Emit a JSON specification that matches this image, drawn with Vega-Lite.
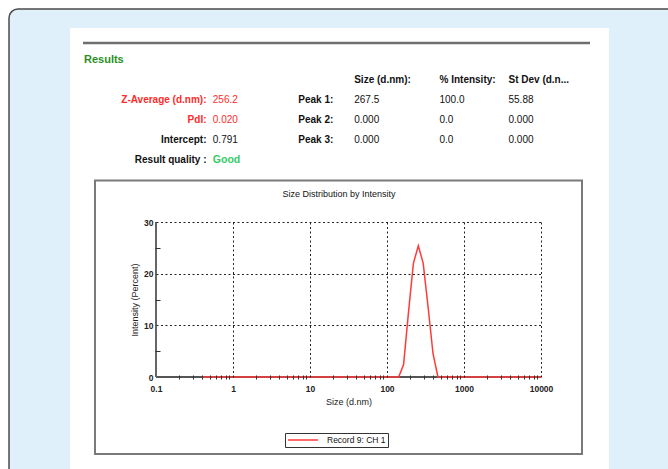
{
  "$schema": "https://vega.github.io/schema/vega-lite/v6.json",
  "width": 385,
  "height": 155,
  "autosize": {"type": "none"},
  "padding": {"left": 156, "top": 222, "right": 127, "bottom": 92},
  "background": "#ffffff",
  "config": {
    "view": {"stroke": null},
    "font": "Liberation Sans",
    "axis": {"zindex": 1, "labelFont": "Liberation Sans", "titleFont": "Liberation Sans"},
    "text": {"font": "Liberation Sans"}
  },
  "datasets": {
    "dist": [
      {"size": 0.4, "intensity": 0}, {"size": 0.4632, "intensity": 0}, {"size": 0.5365, "intensity": 0}, {"size": 0.6213, "intensity": 0},
      {"size": 0.7195, "intensity": 0}, {"size": 0.8332, "intensity": 0}, {"size": 0.9649, "intensity": 0}, {"size": 1.117, "intensity": 0},
      {"size": 1.294, "intensity": 0}, {"size": 1.499, "intensity": 0}, {"size": 1.736, "intensity": 0}, {"size": 2.01, "intensity": 0},
      {"size": 2.328, "intensity": 0}, {"size": 2.696, "intensity": 0}, {"size": 3.122, "intensity": 0}, {"size": 3.615, "intensity": 0},
      {"size": 4.187, "intensity": 0}, {"size": 4.849, "intensity": 0}, {"size": 5.615, "intensity": 0}, {"size": 6.503, "intensity": 0},
      {"size": 7.531, "intensity": 0}, {"size": 8.721, "intensity": 0}, {"size": 10.1, "intensity": 0}, {"size": 11.7, "intensity": 0},
      {"size": 13.54, "intensity": 0}, {"size": 15.69, "intensity": 0}, {"size": 18.17, "intensity": 0}, {"size": 21.04, "intensity": 0},
      {"size": 24.36, "intensity": 0}, {"size": 28.21, "intensity": 0}, {"size": 32.67, "intensity": 0}, {"size": 37.84, "intensity": 0},
      {"size": 43.82, "intensity": 0}, {"size": 50.75, "intensity": 0}, {"size": 58.77, "intensity": 0}, {"size": 68.06, "intensity": 0},
      {"size": 78.82, "intensity": 0}, {"size": 91.28, "intensity": 0}, {"size": 105.7, "intensity": 0}, {"size": 122.4, "intensity": 0},
      {"size": 141.8, "intensity": 0}, {"size": 164.2, "intensity": 2.4}, {"size": 190.1, "intensity": 12.5}, {"size": 220.2, "intensity": 22.0},
      {"size": 255.0, "intensity": 25.4}, {"size": 295.3, "intensity": 22.0}, {"size": 342.0, "intensity": 13.5}, {"size": 396.1, "intensity": 4.5},
      {"size": 458.7, "intensity": 0}, {"size": 531.2, "intensity": 0}, {"size": 615.1, "intensity": 0}, {"size": 712.4, "intensity": 0},
      {"size": 825.0, "intensity": 0}, {"size": 955.4, "intensity": 0}, {"size": 1106, "intensity": 0}, {"size": 1281, "intensity": 0},
      {"size": 1484, "intensity": 0}, {"size": 1718, "intensity": 0}, {"size": 1990, "intensity": 0}, {"size": 2305, "intensity": 0},
      {"size": 2669, "intensity": 0}, {"size": 3091, "intensity": 0}, {"size": 3580, "intensity": 0}, {"size": 4145, "intensity": 0},
      {"size": 4801, "intensity": 0}, {"size": 5560, "intensity": 0}, {"size": 6439, "intensity": 0}, {"size": 7456, "intensity": 0},
      {"size": 8635, "intensity": 0}, {"size": 10000, "intensity": 0}
    ],
    "cells": [
      {"row": -1, "col": 0, "text": "Results"},
      {"row": 0, "col": 4, "text": "Size (d.nm):"},
      {"row": 0, "col": 5, "text": "% Intensity:"},
      {"row": 0, "col": 6, "text": "St Dev (d.n..."},
      {"row": 1, "col": 1, "text": "Z-Average (d.nm):"},
      {"row": 1, "col": 2, "text": "256.2"},
      {"row": 1, "col": 3, "text": "Peak 1:"},
      {"row": 1, "col": 4, "text": "267.5"},
      {"row": 1, "col": 5, "text": "100.0"},
      {"row": 1, "col": 6, "text": "55.88"},
      {"row": 2, "col": 1, "text": "PdI:"},
      {"row": 2, "col": 2, "text": "0.020"},
      {"row": 2, "col": 3, "text": "Peak 2:"},
      {"row": 2, "col": 4, "text": "0.000"},
      {"row": 2, "col": 5, "text": "0.0"},
      {"row": 2, "col": 6, "text": "0.000"},
      {"row": 3, "col": 1, "text": "Intercept:"},
      {"row": 3, "col": 2, "text": "0.791"},
      {"row": 3, "col": 3, "text": "Peak 3:"},
      {"row": 3, "col": 4, "text": "0.000"},
      {"row": 3, "col": 5, "text": "0.0"},
      {"row": 3, "col": 6, "text": "0.000"},
      {"row": 4, "col": 1, "text": "Result quality :"},
      {"row": 4, "col": 2, "text": "Good"}
    ]
  },
  "layer": [
    {
      "data": {"values": [{}]},
      "layer": [
        {
          "mark": {"type": "rect", "fill": "#dff0fa", "stroke": "#4a4a4a", "strokeWidth": 1.5, "cornerRadius": 9},
          "encoding": {
            "x": {"datum": 0.001233, "type": "quantitative", "scale": {"type": "log", "domain": [0.1, 10000], "nice": false}, "axis": null},
            "x2": {"datum": 1160000},
            "y": {"datum": 71.23, "type": "quantitative", "scale": {"domain": [0, 30], "nice": false, "zero": false}, "axis": null},
            "y2": {"datum": -23.81}
          }
        },
        {
          "mark": {"type": "rect", "fill": "#ffffff"},
          "encoding": {
            "x": {"datum": 0.00764, "type": "quantitative", "axis": null},
            "x2": {"datum": 76390},
            "y": {"datum": 67.55, "type": "quantitative", "axis": null},
            "y2": {"datum": -23.81}
          }
        },
        {
          "mark": {"type": "rule", "stroke": "#6e6e6e", "strokeWidth": 2.5},
          "encoding": {
            "x": {"datum": 0.01127, "type": "quantitative", "axis": null},
            "x2": {"datum": 43290},
            "y": {"datum": 64.65, "type": "quantitative", "axis": null}
          }
        },
        {
          "mark": {"type": "rect", "fillOpacity": 0, "stroke": "#7a7a7a", "strokeWidth": 2},
          "encoding": {
            "x": {"datum": 0.01613, "type": "quantitative", "axis": null},
            "x2": {"datum": 34080},
            "y": {"datum": 38.03, "type": "quantitative", "axis": null},
            "y2": {"datum": -14.9}
          }
        },
        {
          "mark": {"type": "rule", "stroke": "#555555", "strokeWidth": 2},
          "encoding": {
            "x": {"datum": 0.1, "type": "quantitative", "axis": null},
            "x2": {"datum": 10000},
            "y": {"datum": 0, "type": "quantitative", "axis": null}
          }
        },
        {
          "mark": {"type": "rule", "stroke": "#666666", "strokeWidth": 2},
          "encoding": {
            "x": {"datum": 0.1, "type": "quantitative", "axis": null},
            "y": {"datum": 0, "type": "quantitative", "axis": null},
            "y2": {"datum": 30}
          }
        }
      ]
    },
    {
      "data": {"name": "dist"},
      "layer": [
        {
          "mark": {"type": "line", "strokeWidth": 1.5},
          "encoding": {
            "x": {
              "field": "size", "type": "quantitative",
              "scale": {"type": "log", "domain": [0.1, 10000], "nice": false},
              "axis": {"zindex": 2, "orient": "bottom", "values": [0.1, 1, 10, 100, 1000, 10000], "format": "~g", "grid": false, "domain": false, "ticks": false, "tickSize": 0, "labelPadding": 7, "labelFlush": false, "labelOverlap": false, "labelFontSize": 8.5, "labelFontWeight": "bold", "labelColor": "#222222", "title": "Size (d.nm)", "titleFontSize": 9, "titleFontWeight": "normal", "titleColor": "#222222", "titlePadding": 5}
            },
            "y": {
              "field": "intensity", "type": "quantitative",
              "scale": {"domain": [0, 30], "nice": false, "zero": false},
              "axis": {"zindex": 2, "orient": "left", "values": [0, 10, 20, 30], "grid": false, "domain": false, "ticks": false, "tickSize": 0, "labelPadding": 3, "labelFontSize": 8.5, "labelFontWeight": "bold", "labelColor": "#222222", "title": "Intensity (Percent)", "titleFontSize": 9, "titleFontWeight": "normal", "titleColor": "#222222", "titlePadding": 4}
            },
            "color": {
              "datum": "Record 9: CH 1", "type": "nominal",
              "scale": {"range": ["#ff3a3a"]},
              "legend": {"orient": "none", "legendX": 129, "legendY": 211, "title": null, "symbolType": "M-1,0H6.5", "symbolSize": 64, "symbolStrokeWidth": 1.5, "labelOffset": 30, "labelFontSize": 8.5, "labelColor": "#111111", "labelFont": "Liberation Sans", "padding": 2, "strokeColor": "#333333", "fillColor": "#ffffff", "cornerRadius": 0}
            }
          }
        },
        {
          "mark": {"type": "line", "opacity": 0},
          "encoding": {
            "x": {"field": "size", "type": "quantitative", "axis": {"zindex": 2, "orient": "bottom", "values": [0.2, 0.3, 0.4, 0.5, 0.6, 0.7, 0.8, 0.9, 2, 3, 4, 5, 6, 7, 8, 9, 20, 30, 40, 50, 60, 70, 80, 90, 200, 300, 400, 500, 600, 700, 800, 900, 2000, 3000, 4000, 5000, 6000, 7000, 8000, 9000], "grid": false, "domain": false, "labels": false, "ticks": true, "tickSize": 4, "tickColor": "#333333", "tickWidth": 1, "offset": -2, "title": null}},
            "y": {"field": "intensity", "type": "quantitative", "axis": {"zindex": 2, "orient": "left", "values": [5, 15, 25], "grid": false, "domain": false, "labels": false, "ticks": true, "tickSize": 5, "tickColor": "#333333", "tickWidth": 1, "offset": -4, "title": null}}
          }
        },
        {
          "mark": {"type": "line", "opacity": 0},
          "encoding": {
            "x": {"field": "size", "type": "quantitative", "axis": {"zindex": 2, "orient": "bottom", "values": [1, 10, 100, 1000, 10000], "grid": true, "gridDash": [2, 2.5], "gridColor": "#222222", "gridWidth": 1, "gridOpacity": 1, "domain": false, "labels": false, "ticks": false, "title": null}},
            "y": {"field": "intensity", "type": "quantitative", "axis": {"zindex": 2, "orient": "left", "values": [10, 20, 30], "grid": true, "gridDash": [2, 2.5], "gridColor": "#222222", "gridWidth": 1, "gridOpacity": 1, "domain": false, "labels": false, "ticks": false, "title": null}}
          }
        },
        {
          "mark": {"type": "line", "opacity": 0},
          "encoding": {
            "x": {"field": "size", "type": "quantitative", "axis": {"zindex": 2, "orient": "top", "grid": false, "domain": false, "labels": false, "ticks": false, "title": "Size Distribution by Intensity", "titleX": 182.5, "titleY": -26, "titleBaseline": "alphabetic", "titleAnchor": "middle", "titleFontSize": 9, "titleFontWeight": "normal", "titleColor": "#111111"}},
            "y": {"field": "intensity", "type": "quantitative", "axis": null}
          }
        }
      ],
      "resolve": {"axis": {"x": "independent", "y": "independent"}}
    },
    {
      "data": {"name": "cells"},
      "encoding": {
        "x": {"field": "col", "type": "quantitative", "scale": {"domain": [0, 1, 2, 3, 4, 5, 6], "range": [-72, 50.5, 56.8, 142.3, 198.2, 283.5, 352.5], "nice": false, "zero": false}, "axis": null},
        "y": {"field": "row", "type": "quantitative", "scale": {"domain": [-1, 4], "range": [-162, -62], "nice": false, "zero": false}, "axis": null},
        "text": {"field": "text"}
      },
      "layer": [
        {"transform": [{"filter": "datum.row == -1"}], "mark": {"type": "text", "align": "left", "baseline": "middle", "fontWeight": "bold", "fontSize": 11, "color": "#2a8f1e"}},
        {"transform": [{"filter": "datum.col == 1"}], "mark": {"type": "text", "align": "right", "baseline": "middle", "fontWeight": "bold", "fontSize": 10}, "encoding": {"color": {"condition": {"test": "datum.row <= 2", "value": "#ff2b2b"}, "value": "#111111"}}},
        {"transform": [{"filter": "datum.col == 2 && datum.row < 4"}], "mark": {"type": "text", "align": "left", "baseline": "middle", "fontSize": 10}, "encoding": {"color": {"condition": {"test": "datum.row <= 2", "value": "#ff2b2b"}, "value": "#111111"}}},
        {"transform": [{"filter": "datum.col == 2 && datum.row == 4"}], "mark": {"type": "text", "align": "left", "baseline": "middle", "fontWeight": "bold", "fontSize": 10.5, "color": "#33cc66"}},
        {"transform": [{"filter": "datum.col == 3 || datum.row == 0"}], "mark": {"type": "text", "align": "left", "baseline": "middle", "fontWeight": "bold", "fontSize": 10, "color": "#111111"}},
        {"transform": [{"filter": "datum.col >= 4 && datum.row >= 1"}], "mark": {"type": "text", "align": "left", "baseline": "middle", "fontSize": 10, "color": "#111111"}}
      ]
    }
  ],
  "resolve": {"scale": {"x": "independent", "y": "independent"}}
}
